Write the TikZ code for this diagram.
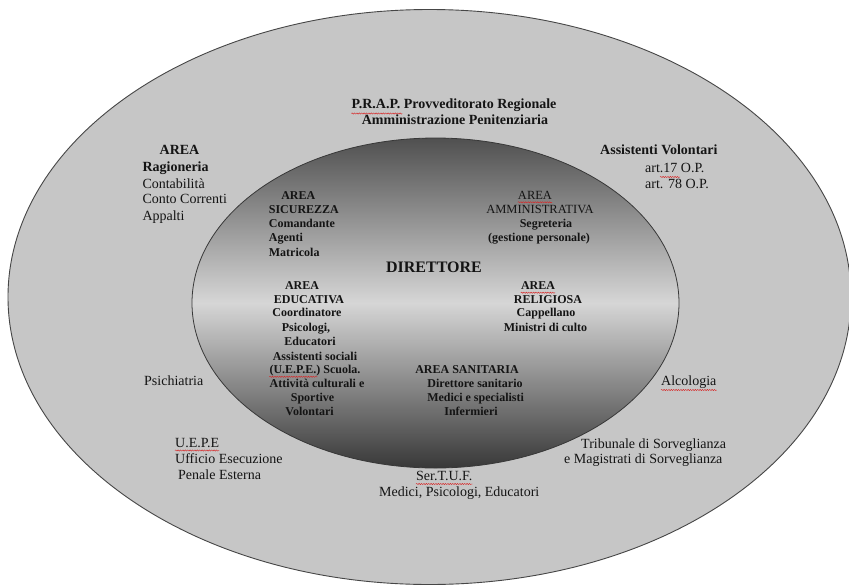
\documentclass[tikz,border=0pt]{standalone}
\usepackage{fontspec}
\setmainfont{Liberation Serif}
\usetikzlibrary{decorations.pathmorphing}
\definecolor{outerfill}{RGB}{198,198,198}
\definecolor{rimline}{RGB}{70,70,70}
\definecolor{innertop}{RGB}{80,80,80}
\definecolor{innermid}{RGB}{214,214,214}
\definecolor{innerbot}{RGB}{56,56,56}
\definecolor{txt}{RGB}{20,20,20}
\definecolor{squigred}{RGB}{215,40,40}
\tikzset{
  otext/.style={inner sep=0pt, text=txt, font=\fontsize{14}{16.5}\selectfont},
  obold/.style={otext, font=\bfseries\fontsize{14}{16.5}\selectfont},
  itext/.style={inner sep=0pt, text=txt, font=\bfseries\fontsize{12}{14}\selectfont},
  ireg/.style={inner sep=0pt, text=txt, font=\fontsize{12.5}{14}\selectfont},
  dtext/.style={inner sep=0pt, text=txt, font=\bfseries\fontsize{16}{18}\selectfont},
  squig/.style={draw=squigred, line width=0.45pt, decorate,
    decoration={snake, amplitude=0.6pt, segment length=2.4pt}},
}
\begin{document}
\begin{tikzpicture}[x=1pt,y=-1pt]
\useasboundingbox (0,0) rectangle (849,587);
\fill[white] (0,0) rectangle (849,587);
% outer ellipse
\draw[fill=outerfill, draw=rimline, line width=0.9pt] (429.5,297) ellipse [x radius=421.5, y radius=287.5];
% inner ellipse: vertical gradient built from thin strips
\begin{scope}
  \clip (435.5,303) ellipse [x radius=243.5, y radius=165];
  \foreach \k in {0,...,165} {
    \pgfmathsetmacro{\pc}{\k/1.65}
    \fill[innermid!\pc!innertop] (190,138+\k) rectangle (681,139.3+\k);
  }
  \foreach \k in {0,...,165} {
    \pgfmathsetmacro{\pc}{\k/1.65}
    \fill[innerbot!\pc!innermid] (190,303+\k) rectangle (681,304.3+\k);
  }
\end{scope}
\draw[draw=rimline!80!black, line width=0.8pt] (435.5,303) ellipse [x radius=243.5, y radius=165];

% ---- outer texts
\node[obold, anchor=mid] (prap1) at (454,106) {P.R.A.P. Provveditorato Regionale};
\node[obold, anchor=mid] (prap2) at (455,122.3) {Amministrazione Penitenziaria};

\node[obold, anchor=mid] (rag1) at (179.5,152.7) {AREA};
\node[obold, anchor=mid west] (rag2) at (142.3,169.3) {Ragioneria};
\node[otext, anchor=mid west] (rag3) at (142.3,186) {Contabilità};
\node[otext, anchor=mid west] (rag4) at (142.3,201.7) {Conto Correnti};
\node[otext, anchor=mid west] (rag5) at (142.3,218.3) {Appalti};

\node[obold, anchor=mid west] (vol1) at (600,152.7) {Assistenti Volontari};
\node[otext, anchor=mid west] (vol2) at (645,170) {art.17 O.P.};
\node[otext, anchor=mid west] (vol3) at (645,186) {art. 78 O.P.};

\node[otext, anchor=mid west] (psi) at (144,383) {Psichiatria};
\node[otext, anchor=mid west] (alc) at (661,383) {Alcologia};

\node[otext, anchor=mid west] (uepe1) at (175,445) {U.E.P.E};
\node[otext, anchor=mid west] (uepe2) at (175,461) {Ufficio Esecuzione};
\node[otext, anchor=mid west] (uepe3) at (178,477) {Penale Esterna};

\node[otext, anchor=mid west] (trib1) at (581,446) {Tribunale di Sorveglianza};
\node[otext, anchor=mid west] (trib2) at (564,461) {e Magistrati di Sorveglianza};

\node[otext, anchor=mid west] (sert1) at (416,478) {Ser.T.U.F.};
\node[otext, anchor=mid east] (sert2) at (539.5,494) {Medici, Psicologi, Educatori};

% ---- inner texts
\node[itext, anchor=mid] (sic1) at (298.3,197.3) {AREA};
\node[itext, anchor=mid west] (sic2) at (268.7,210.7) {SICUREZZA};
\node[itext, anchor=mid west] (sic3) at (268.7,225.5) {Comandante};
\node[itext, anchor=mid west] (sic4) at (268.7,239.3) {Agenti};
\node[itext, anchor=mid west] (sic5) at (268.7,254) {Matricola};

\node[ireg, anchor=mid] (amm1) at (535,197.3) {AREA};
\node[ireg, anchor=mid] (amm2) at (540,210.7) {AMMINISTRATIVA};
\node[itext, anchor=mid] (amm3) at (546,225.5) {Segreteria};
\node[itext, anchor=mid] (amm4) at (539,239.3) {(gestione personale)};

\node[dtext, anchor=mid] (dir) at (434,270) {DIRETTORE};

\node[itext, anchor=mid] (edu1) at (302,286.7) {AREA};
\node[itext, anchor=mid] (edu2) at (309,300.7) {EDUCATIVA};
\node[itext, anchor=mid] (edu3) at (307,314.3) {Coordinatore};
\node[itext, anchor=mid] (edu4) at (306,329.3) {Psicologi,};
\node[itext, anchor=mid] (edu5) at (310,342.7) {Educatori};
\node[itext, anchor=mid] (edu6) at (315,357.7) {Assistenti sociali};
\node[itext, anchor=mid] (edu7) at (315,371.3) {(U.E.P.E.) Scuola.};
\node[itext, anchor=mid] (edu8) at (317,385.3) {Attività culturali e};
\node[itext, anchor=mid] (edu9) at (312.5,399.3) {Sportive};
\node[itext, anchor=mid] (edu10) at (309.6,413.3) {Volontari};

\node[itext, anchor=mid] (rel1) at (538,286.7) {AREA};
\node[itext, anchor=mid] (rel2) at (548,300.7) {RELIGIOSA};
\node[itext, anchor=mid] (rel3) at (546,314.3) {Cappellano};
\node[itext, anchor=mid] (rel4) at (545.5,329.3) {Ministri di culto};

\node[itext, anchor=mid] (san1) at (467,371.3) {AREA SANITARIA};
\node[itext, anchor=mid] (san2) at (475,385.3) {Direttore sanitario};
\node[itext, anchor=mid] (san3) at (475.6,399.3) {Medici e specialisti};
\node[itext, anchor=mid] (san4) at (471,413.3) {Infermieri};

% ---- spell-check squiggles
\draw[squig] ([yshift=-7.5pt]prap1.mid west) -- ++(51,0);
\draw[squig] ([yshift=-5pt]amm1.mid west) -- ([yshift=-5pt]amm1.mid east);
\draw[squig] ([yshift=-6pt]rel1.mid west) -- ([yshift=-6pt]rel1.mid east);
\draw[squig] ([xshift=15pt,yshift=-7pt]vol2.mid west) -- ++(20,0);
\draw[squig] ([yshift=-5.5pt]edu7.mid west) -- ++(48,0);
\draw[squig] ([yshift=-5.5pt]uepe1.mid west) -- ([yshift=-5.5pt]uepe1.mid east);
\draw[squig] ([yshift=-6pt]sert1.mid west) -- ([yshift=-6pt]sert1.mid east);
\draw[squig] ([yshift=-7pt]alc.mid west) -- ([yshift=-7pt]alc.mid east);
\end{tikzpicture}
\end{document}
